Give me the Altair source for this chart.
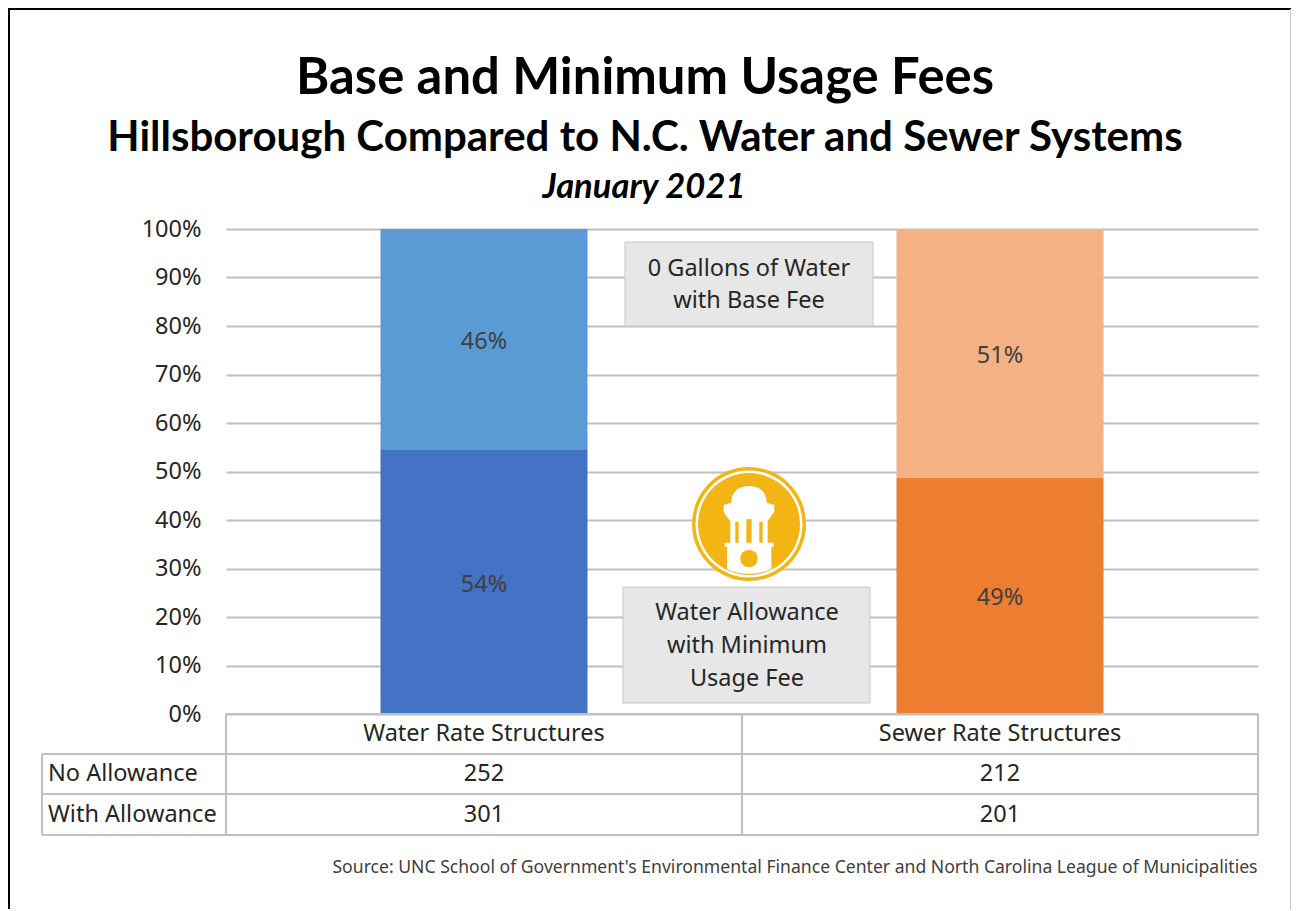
import altair as alt
import pandas as pd

# ---- data ----
systems = ["Water Rate Structures", "Sewer Rate Structures"]
no_allowance = [252, 212]
with_allowance = [301, 201]
row_names = ["No Allowance", "With Allowance"]
y_ticks = [0, .1, .2, .3, .4, .5, .6, .7, .8, .9, 1]

# ---- derived table ----
rows = []
for s, n, w in zip(systems, no_allowance, with_allowance):
    t = n + w
    rows.append(dict(system=s, key=s + "|with", start=0, end=w / t, mid=w / t / 2, label=f"{round(w / t * 100)}%"))
    rows.append(dict(system=s, key=s + "|no", start=w / t, end=1, mid=(w / t + 1) / 2, label=f"{round(n / t * 100)}%"))
df = pd.DataFrame(rows)

FONT = "Noto Sans"
TITLE_FONT = "Lato"
L, T = 226, 229          # page position of plot area
W, H = 1032, 485
GREY = "#c0c0c0"
TXT = "#262626"
FS = 23.5

px = lambda v: v - L
py = lambda v: v - T
blank = pd.DataFrame({"_": [0]})

x_enc = alt.X("system:N", sort=systems, axis=None,
              scale=alt.Scale(paddingInner=0, paddingOuter=0))
y_scale = alt.Scale(domain=[0, 1], nice=False)
y_axis = alt.Axis(values=y_ticks, format=".0%", grid=True, gridColor=GREY, gridWidth=2,
                  domain=False, ticks=False, labelPadding=25, labelFont=FONT,
                  labelFontSize=FS, labelColor=TXT, title=None)

bars = alt.Chart(df).mark_bar(size=207).encode(
    x=x_enc,
    y=alt.Y("start:Q", scale=y_scale, axis=y_axis),
    y2="end:Q",
    color=alt.Color("key:N", legend=None, scale=alt.Scale(
        domain=[systems[0] + "|with", systems[0] + "|no", systems[1] + "|with", systems[1] + "|no"],
        range=["#4472c4", "#5b9bd5", "#ed7d31", "#f4b183"])),
)

bar_labels = alt.Chart(df).mark_text(font=FONT, fontSize=FS, color="#404040", dy=2.5).encode(
    x=x_enc,
    y=alt.Y("mid:Q", scale=y_scale, axis=y_axis),
    text="label:N",
)


def text(s, x, y, size, font=FONT, color=TXT, align="center", **kw):
    return alt.Chart(blank).mark_text(text=s, font=font, fontSize=size, color=color, align=align,
                                      baseline="middle", **kw).encode(
        x=alt.value(px(x)), y=alt.value(py(y)))


def hline(x1, x2, y, color=GREY, w=2):
    return alt.Chart(blank).mark_rule(color=color, strokeWidth=w, clip=False).encode(
        x=alt.value(px(x1)), x2=alt.value(px(x2)), y=alt.value(py(y)))


def vline(x, y1, y2, color=GREY, w=2):
    return alt.Chart(blank).mark_rule(color=color, strokeWidth=w, clip=False).encode(
        x=alt.value(px(x)), y=alt.value(py(y1)), y2=alt.value(py(y2)))


def box(x1, x2, y1, y2):
    return alt.Chart(blank).mark_rect(fill="#e7e7e7", stroke="#c8c8c8", strokeWidth=1).encode(
        x=alt.value(px(x1)), x2=alt.value(px(x2)), y=alt.value(py(y1)), y2=alt.value(py(y2)))


def symbol(shape, size, color, x=749, y=524):
    return alt.Chart(blank).mark_point(shape=shape, size=size, filled=True, fill=color, stroke=None,
                                       opacity=1).encode(
        x=alt.value(px(x)), y=alt.value(py(y)))


# ---- logo (unit shapes: [-1, 1] square, 57 px per unit at full size) ----
GOLD = "#f3b514"
bz = lambda a, b: f"{(a - 266) / 171:.3f},{(b - 222) / 171:.3f}"
tower_pts = [(200, 356), (200, 290), (193, 290), (193, 278), (210, 278), (210, 212), (198, 198), (190, 185),
             (190, 165), (213, 158)]
tower = "M" + " L".join(bz(*p) for p in tower_pts)
tower += f" C{bz(213, 122)} {bz(238, 108)} {bz(266, 108)} C{bz(294, 108)} {bz(319, 122)} {bz(319, 158)}"
tower += " L" + " L".join(bz(*p) for p in [(342, 165), (342, 185), (333, 198), (322, 212), (322, 278),
                                            (340, 278), (340, 290), (333, 290), (333, 356)])
tower += f" C{bz(300, 376)} {bz(232, 376)} {bz(200, 356)} Z"
slits = ""
for a, b, top in [(225, 235, 215), (258, 274, 208), (297, 307, 215)]:
    slits += "M" + " L".join(bz(*p) for p in [(a, top), (b, top), (b, 278), (a, 278)]) + " Z "
D = 114
logo = [
    symbol("circle", D * D, GOLD),
    symbol("circle", 107 * 107, "white"),
    symbol("circle", 102 * 102, GOLD),
    symbol(tower, D * D, "white"),
    symbol(slits, D * D, GOLD),
    symbol("circle", 17.5 * 17.5, GOLD, x=749, y=558.5),
]

# ---- table ----
table = [
    hline(226, 1258, 714), hline(42, 1258, 754), hline(42, 1258, 794), hline(42, 1258, 835),
    vline(42, 754, 835), vline(226, 714, 835), vline(742, 714, 835), vline(1258, 714, 835),
    text(systems[0], 484, 734, FS), text(systems[1], 1000, 734, FS),
    text(row_names[0], 48, 774, FS, align="left"), text(row_names[1], 48, 815, FS, align="left"),
    text(str(no_allowance[0]), 484, 774, FS), text(str(no_allowance[1]), 1000, 774, FS),
    text(str(with_allowance[0]), 484, 815, FS), text(str(with_allowance[1]), 1000, 815, FS),
]

frame = [hline(8, 1291, 9, "#000000", 2), vline(9, 8, 909, "#000000", 2), vline(1290.5, 9, 909, "#c8c8c8", 1)]

titles = [
    text("Base and Minimum Usage Fees", 645, 79, 50.8, TITLE_FONT, "#000000", fontWeight="bold"),
    text("Hillsborough Compared to N.C. Water and Sewer Systems", 645, 138, 42, TITLE_FONT, "#000000", fontWeight="bold"),
    text("January 2021", 644, 188, 34.5, TITLE_FONT, "#000000", fontWeight="bold", fontStyle="italic"),
    text("Source: UNC School of Government's Environmental Finance Center and North Carolina League of Municipalities",
         795, 868, 17.6, color="#404040"),
]

notes = [
    box(625, 873, 242, 326),
    text("0 Gallons of Water", 749, 269, FS), text("with Base Fee", 749, 301, FS),
    box(623, 870, 587, 703),
    text("Water Allowance", 747, 613, FS), text("with Minimum", 747, 646, FS), text("Usage Fee", 747, 679, FS),
]

chart = alt.layer(bars, bar_labels, *notes, *logo, *table, *frame, *titles).resolve_scale(
    color="independent"
).properties(
    width=W, height=H, background="white",
    padding={"left": L - 8, "top": T - 8, "right": 1291 - L - W, "bottom": 909 - T - H},
    autosize=alt.AutoSizeParams(type="none"),
).configure_view(stroke=None)

chart.save("out.html", embed_options={"renderer": "svg", "actions": False})
